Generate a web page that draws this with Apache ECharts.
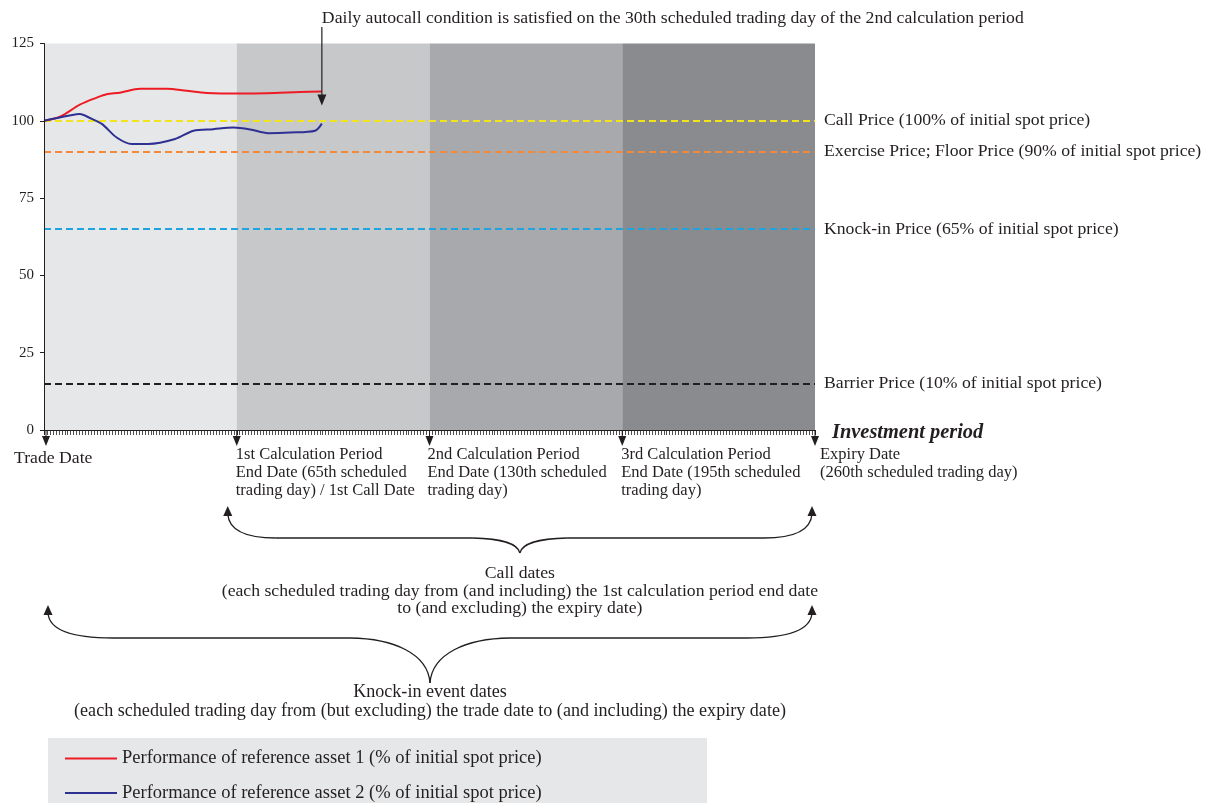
<!DOCTYPE html>
<html><head><meta charset="utf-8">
<script src="https://cdn.jsdelivr.net/npm/echarts@6/dist/echarts.min.js"></script>
<style>html,body{margin:0;padding:0;background:#fff}#c{width:1205px;height:803px}</style>
</head><body><div id="c"></div>
<script>
// ---------- data ----------
const periodBounds = [0, 65, 130, 195, 260];
const yMin = 0, yMax = 125, yStep = 25;

const asset1Days   = [0, 5.4, 12.1, 17.8, 21.1, 25.6, 32.4, 41.4, 48.1, 54.9, 66.1, 75.1, 86.3, 93.7];
const asset1Values = [100, 101.3, 105.2, 107.5, 108.6, 109.1, 110.4, 110.4, 109.7, 109.0, 108.8, 108.9, 109.3, 109.5];

const asset2Days   = [0, 8.2, 12.1, 15.5, 19.5, 24.5, 29.6, 35.2, 44.2, 50.4, 57.1, 63.8, 69.5, 75.6, 83.0, 91.4, 93.7];
const asset2Values = [100, 101.6, 102.2, 100.9, 99.0, 94.6, 92.5, 92.5, 94.1, 96.8, 97.3, 97.8, 97.2, 96.0, 96.2, 96.8, 99.1];

const seriesNames = [
  'Performance of reference asset 1 (% of initial spot price)',
  'Performance of reference asset 2 (% of initial spot price)'
];

const levelValues = [100, 90, 65, 15];
const levelLabels = [
  'Call Price (100% of initial spot price)',
  'Exercise Price; Floor Price (90% of initial spot price)',
  'Knock-in Price (65% of initial spot price)',
  'Barrier Price (10% of initial spot price)'
];

const boundaryLabels = [
  'Trade Date',
  '1st Calculation Period\nEnd Date (65th scheduled\ntrading day) / 1st Call Date',
  '2nd Calculation Period\nEnd Date (130th scheduled\ntrading day)',
  '3rd Calculation Period\nEnd Date (195th scheduled\ntrading day)',
  'Expiry Date\n(260th scheduled trading day)'
];

const annotationText = 'Daily autocall condition is satisfied on the 30th scheduled trading day of the 2nd calculation period';
const axisTitle = 'Investment period';
const callDatesText = 'Call dates\n(each scheduled trading day from (and including) the 1st calculation period end date\nto (and excluding) the expiry date)';
const knockInText = 'Knock-in event dates\n(each scheduled trading day from (but excluding) the trade date to (and including) the expiry date)';

// ---------- style ----------
const FONT = "'Liberation Serif','Times New Roman',serif";
const TXT = '#231f20';
const FS = 17.7;
const bandColors = ['#e6e7e8', '#c7c8ca', '#a7a9ac', '#8a8b8e'];
const levelColors = ['#f2e41c', '#f4893a', '#1ea5e0', '#231f20'];
const lineColors = ['#ed1c24', '#2e3192'];

const zip = (a, b) => a.map((v, i) => [v, b[i]]);
const bands = periodBounds.slice(0, -1).map((v, i) => [v, periodBounds[i + 1]]);

const chart = echarts.init(document.getElementById('c'), null, {renderer: 'canvas'});

chart.setOption({
  animation: false,
  backgroundColor: '#ffffff',
  textStyle: {fontFamily: FONT, color: TXT},
  grid: {left: 44, right: 390, top: 43.5, bottom: 373, containLabel: false},
  xAxis: {
    type: 'value', min: periodBounds[0], max: periodBounds[periodBounds.length - 1], interval: 65,
    z: 10,
    axisLine: {show: true, lineStyle: {color: TXT, width: 1}},
    axisTick: {show: true, length: 5, lineStyle: {color: TXT, width: 1}},
    minorTick: {show: true, splitNumber: 65, length: 5, lineStyle: {color: TXT, width: 0.8}},
    axisLabel: {show: false},
    splitLine: {show: false}
  },
  yAxis: {
    type: 'value', min: yMin, max: yMax, interval: yStep,
    z: 10,
    axisLine: {show: true, lineStyle: {color: TXT, width: 1}},
    axisTick: {show: true, length: 4, lineStyle: {color: TXT}},
    axisLabel: {margin: 10, fontSize: 15, fontFamily: FONT, color: TXT},
    splitLine: {show: false}
  },
  legend: {
    show: true, orient: 'vertical', left: 65, top: 749, z: 10,
    itemWidth: 52, itemHeight: 2, itemGap: 15.5, icon: 'rect', padding: 0,
    data: seriesNames,
    textStyle: {fontSize: 18.5, fontFamily: FONT, color: TXT}
  },
  series: [
    {
      type: 'custom', z: 1, silent: true, clip: false,
      data: bands,
      encode: {x: [0, 1]},
      renderItem: function (params, api) {
        const p0 = api.coord([api.value(0), yMax]);
        const p1 = api.coord([api.value(1), yMin]);
        return {type: 'rect', shape: {x: p0[0], y: p0[1], width: p1[0] - p0[0], height: p1[1] - p0[1]},
                style: {fill: bandColors[params.dataIndex]}};
      }
    },
    {
      name: seriesNames[0], type: 'line', z: 4, smooth: 0.3, showSymbol: false, symbol: 'none',
      data: zip(asset1Days, asset1Values),
      lineStyle: {color: lineColors[0], width: 2}, itemStyle: {color: lineColors[0]},
      markLine: {
        silent: true, symbol: ['none', 'none'], z: 3,
        data: levelValues.map((v, i) => ({
          yAxis: v,
          lineStyle: {color: levelColors[i], type: [7, 4], width: 2},
          label: {show: true, position: 'end', distance: 9, formatter: levelLabels[i], padding: [4, 0, 0, 0],
                  fontSize: FS, fontFamily: FONT, color: TXT}
        }))
      }
    },
    {
      name: seriesNames[1], type: 'line', z: 4, smooth: 0.3, showSymbol: false, symbol: 'none',
      data: zip(asset2Days, asset2Values),
      lineStyle: {color: lineColors[1], width: 2}, itemStyle: {color: lineColors[1]}
    }
  ]
});

// ---------- annotations positioned from the chart's own scales ----------
const px = (x, y) => chart.convertToPixel({gridIndex: 0}, [x, y]);
const g = [];
const axisY = px(0, 0)[1];
const font = FS + 'px ' + FONT;

// legend background
g.push({type: 'rect', z: -10, shape: {x: 48, y: 738, width: 659, height: 70}, style: {fill: '#e6e7e8'}});

// boundary arrows & labels
const labelOffsets = [-30, -1, -2, -1, 5];
periodBounds.forEach((b, i) => {
  const x = px(b, 0)[0] + (i === 0 ? 2 : 0);
  g.push({type: 'line', z: 20, shape: {x1: x, y1: axisY, x2: x, y2: axisY + 10}, style: {stroke: TXT, lineWidth: 1}});
  g.push({type: 'polygon', z: 20, shape: {points: [[x - 4, axisY + 6], [x + 4, axisY + 6], [x, axisY + 16]]}, style: {fill: TXT}});
  g.push({type: 'text', z: 20, x: px(b, 0)[0] + labelOffsets[i], y: i === 0 ? 449 : 446,
    style: {text: boundaryLabels[i], font: (i === 0 ? FS : 16.5) + 'px ' + FONT, fill: TXT, lineHeight: 18,
            textVerticalAlign: 'top', textAlign: 'left'}});
});

// axis title
g.push({type: 'text', z: 20, x: px(260, 0)[0] + 17, y: axisY + 3,
  style: {text: axisTitle, font: 'italic bold 20.4px ' + FONT, fill: TXT, textVerticalAlign: 'middle', textAlign: 'left'}});

// top annotation + arrow
const endPt = px(asset1Days[asset1Days.length - 1], asset1Values[asset1Values.length - 1]);
const ax = endPt[0];
g.push({type: 'text', z: 20, x: ax, y: 18,
  style: {text: annotationText, font: font, fill: TXT, textVerticalAlign: 'middle', textAlign: 'left'}});
g.push({type: 'line', z: 20, shape: {x1: ax, y1: 27, x2: ax, y2: endPt[1] + 5}, style: {stroke: TXT, lineWidth: 1.2}});
g.push({type: 'polygon', z: 20, shape: {points: [[ax - 4.5, endPt[1] + 3], [ax + 4.5, endPt[1] + 3], [ax, endPt[1] + 14]]}, style: {fill: TXT}});

// braces
function brace(L, R, tipY, hY, bot, curveW, dipW) {
  const mid = (L + R) / 2;
  const dep = bot - hY;
  const st = {stroke: TXT, lineWidth: 1.3, fill: null};
  const bz = (x1, y1, c1x, c1y, c2x, c2y, x2, y2) =>
    g.push({type: 'bezierCurve', z: 20, shape: {x1, y1, cpx1: c1x, cpy1: c1y, cpx2: c2x, cpy2: c2y, x2, y2}, style: st});
  const ln = (x1, y1, x2, y2) => g.push({type: 'line', z: 20, shape: {x1, y1, x2, y2}, style: st});
  bz(L, tipY + 8, L + 1, hY - 10, L + curveW * 0.3, hY, L + curveW, hY);
  ln(L + curveW, hY, mid - dipW, hY);
  bz(mid - dipW, hY, mid - dipW * 0.45, hY + 0.5, mid - 2, hY + dep * 0.35, mid, bot);
  bz(mid, bot, mid + 2, hY + dep * 0.35, mid + dipW * 0.45, hY + 0.5, mid + dipW, hY);
  ln(mid + dipW, hY, R - curveW, hY);
  bz(R - curveW, hY, R - curveW * 0.3, hY, R - 1, hY - 10, R, tipY + 8);
  [L, R].forEach(x => g.push({type: 'polygon', z: 20,
    shape: {points: [[x - 4.5, tipY + 10], [x + 4.5, tipY + 10], [x, tipY]]}, style: {fill: TXT}}));
  return mid;
}
const callL = px(65, 0)[0] - 9, callR = px(260, 0)[0] - 3;
const cMid = brace(callL, callR, 506, 538, 553, 48, 47);
g.push({type: 'text', z: 20, x: cMid, y: 565,
  style: {text: callDatesText, font: font, fill: TXT, lineHeight: 17.5, textAlign: 'center', textVerticalAlign: 'top'}});

const knL = px(0, 0)[0] + 4, knR = px(260, 0)[0] - 3;
const kMid = brace(knL, knR, 605, 638, 683, 65, 80);
g.push({type: 'text', z: 20, x: kMid, y: 683,
  style: {text: knockInText, font: '18.1px ' + FONT, fill: TXT, lineHeight: 19, textAlign: 'center', textVerticalAlign: 'top'}});

chart.setOption({graphic: {elements: g}});
</script>
</body></html>
